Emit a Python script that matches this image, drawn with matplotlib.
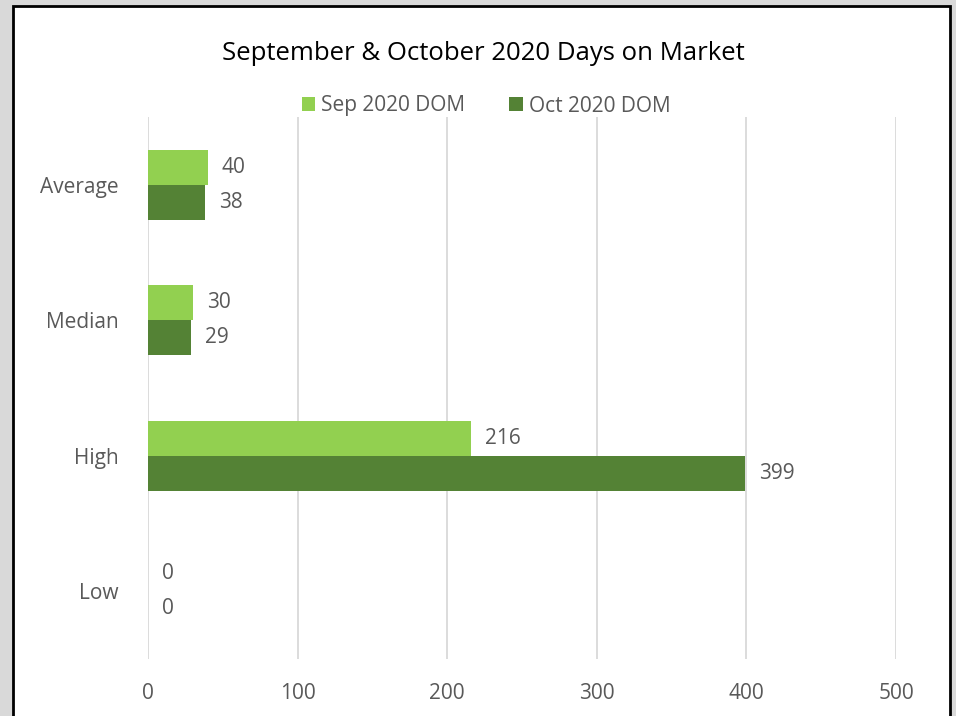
import matplotlib.pyplot as plt
from matplotlib.patches import Rectangle
import numpy as np

categories = ["Low", "High", "Median", "Average"]
sep_dom = [0, 216, 30, 40]
oct_dom = [0, 399, 29, 38]
x_ticks = [0, 100, 200, 300, 400, 500]

sep_color = "#92D050"
oct_color = "#548235"
text_color = "#595959"

plt.rcParams['font.family'] = ['Open Sans', 'DejaVu Sans']

fig = plt.figure(figsize=(9.56, 7.16), dpi=100)
fig.patch.set_facecolor("#d9d9d9")
fig.patches.append(Rectangle((13 / 956, -0.01), (950 - 13) / 956, 1 - 6 / 716 + 0.01,
                             transform=fig.transFigure, facecolor="white",
                             edgecolor="black", linewidth=2, zorder=-1))

ax = fig.add_axes([148 / 956, 1 - 659 / 716, 748 / 956, 542 / 716])
ax.set_facecolor("none")

y = np.arange(len(categories))
h = 0.26
b1 = ax.barh(y + h / 2, sep_dom, height=h, color=sep_color, label="Sep 2020 DOM", zorder=3)
b2 = ax.barh(y - h / 2, oct_dom, height=h, color=oct_color, label="Oct 2020 DOM", zorder=3)

for bars, vals in ((b1, sep_dom), (b2, oct_dom)):
    for bar, v in zip(bars, vals):
        ax.annotate(str(v), (v, bar.get_y() + bar.get_height() / 2),
                    xytext=(10, 0), textcoords="offset points",
                    va="center", ha="left", fontsize=15, color=text_color)

ax.set_xlim(0, 500)
ax.set_ylim(-0.5, 3.5)
ax.set_xticks(x_ticks)
ax.set_yticks(y)
ax.set_yticklabels(categories)
ax.tick_params(axis="both", length=0, labelsize=15, labelcolor=text_color)
ax.tick_params(axis="x", pad=17)
ax.tick_params(axis="y", pad=21)
ax.grid(axis="x", color="#d9d9d9", linewidth=1.3, zorder=0)
for s in ax.spines.values():
    s.set_visible(False)

fig.text(483.5 / 956, 1 - 53 / 716, "September & October 2020 Days on Market",
         ha="center", va="center", fontsize=18.5, color="black")
fig.legend(handles=[b1, b2], loc="center", bbox_to_anchor=(486 / 956, 1 - 106 / 716),
           ncol=2, frameon=False, fontsize=15, labelcolor=text_color,
           handlelength=0.65, handleheight=0.65, handletextpad=0.3, columnspacing=2.1)

fig.savefig("out.png", dpi=100, facecolor=fig.get_facecolor())
